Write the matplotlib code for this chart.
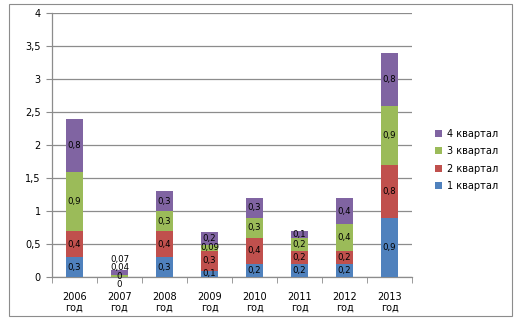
import matplotlib
matplotlib.use("Agg")
import matplotlib.pyplot as plt
from matplotlib.patches import Rectangle, Patch
from matplotlib.ticker import FuncFormatter, FixedLocator
import numpy as np

years = ["2006\nгод", "2007\nгод", "2008\nгод", "2009\nгод", "2010\nгод", "2011\nгод", "2012\nгод", "2013\nгод"]
series_names = ["1 квартал", "2 квартал", "3 квартал", "4 квартал"]
q1 = [0.3, 0.0, 0.3, 0.1, 0.2, 0.2, 0.2, 0.9]
q2 = [0.4, 0.0, 0.4, 0.3, 0.4, 0.2, 0.2, 0.8]
q3 = [0.9, 0.04, 0.3, 0.09, 0.3, 0.2, 0.4, 0.9]
q4 = [0.8, 0.07, 0.3, 0.2, 0.3, 0.1, 0.4, 0.8]
colors = ["#4F81BD", "#C0504D", "#9BBB59", "#8064A2"]

def fmt_num(v):
    return ("%g" % v).replace(".", ",")

plt.rcParams['font.family'] = ['DejaVu Sans']
fig = plt.figure(figsize=(5.21, 3.23), dpi=100)
ax = fig.add_axes([0.0998, 0.1415, 0.691, 0.8173])

x = np.arange(len(years))
data = [q1, q2, q3, q4]
bottom = np.zeros(len(years))
centers = [[] for _ in years]
for vals, col in zip(data, colors):
    vals = np.array(vals)
    ax.bar(x, vals, width=0.38, bottom=bottom, color=col, zorder=3, linewidth=0)
    for i, v in enumerate(vals):
        centers[i].append((bottom[i] + v / 2, fmt_num(v)))
    bottom = bottom + vals

# simple de-overlap of labels inside each bar
gap = 0.128
low_limit = -0.11
for i, labs in enumerate(centers):
    ys = [c[0] for c in labs]
    for _ in range(80):
        moved = False
        for k in range(len(ys) - 1):
            if ys[k + 1] - ys[k] < gap - 1e-9:
                d = (gap - (ys[k + 1] - ys[k])) / 2
                ys[k] -= d
                ys[k + 1] += d
                moved = True
        if not moved:
            break
    if ys[0] < low_limit:
        sh = low_limit - ys[0]
        ys = [y + sh for y in ys]
    for y, (c, t) in zip(ys, labs):
        ax.text(x[i], y, t, ha="center", va="center", fontsize=6.2, color="black",
                zorder=5, clip_on=False)

ax.set_xlim(-0.5, len(years) - 0.5)
ax.set_ylim(0, 4)
ax.set_yticks(np.arange(0, 4.01, 0.5))
ax.yaxis.set_major_formatter(FuncFormatter(lambda v, p: fmt_num(v)))
ax.grid(axis="y", color="#8c8c8c", linewidth=0.9, zorder=0)
ax.set_xticks(x)
ax.set_xticklabels(years, fontsize=7, linespacing=1.1)
ax.xaxis.set_minor_locator(FixedLocator(np.arange(-0.5, len(years), 1.0)))
ax.tick_params(axis="x", which="major", length=0, pad=10.5)
ax.tick_params(axis="x", which="minor", length=4, color="#8c8c8c", direction="out")
ax.tick_params(axis="y", length=4, color="#8c8c8c", labelsize=7, pad=4)
for s in ["top", "right"]:
    ax.spines[s].set_visible(False)
for s in ["left", "bottom"]:
    ax.spines[s].set_color("#8c8c8c")
    ax.spines[s].set_linewidth(0.9)

handles = [Patch(facecolor=c, edgecolor="none") for c in colors][::-1]
names = series_names[::-1]
fig.legend(handles, names, loc="center left", bbox_to_anchor=(0.826, 0.505),
           frameon=False, fontsize=7, handlelength=0.75, handleheight=0.7,
           handletextpad=0.5, labelspacing=0.75, borderpad=0)

fig.patches.append(Rectangle((0.0173, 0.0217), 0.9655, 0.966, transform=fig.transFigure,
                             fill=False, edgecolor="#8c8c8c", linewidth=0.8))

fig.savefig("out.png", dpi=100)
